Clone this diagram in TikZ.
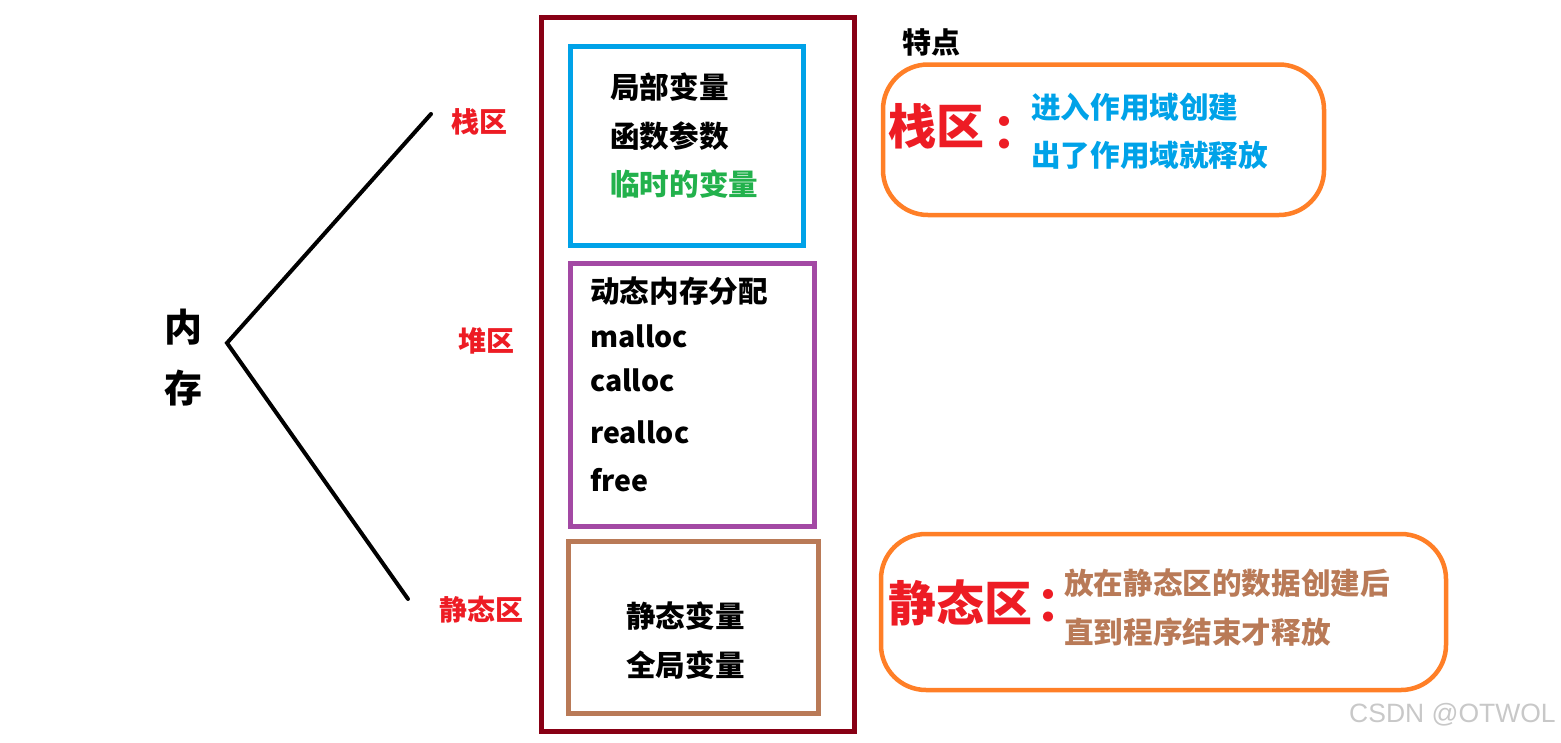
\documentclass[tikz,border=0pt]{standalone}
\usepackage{fontspec}
\newfontfamily\cjk{Noto Sans CJK SC}
\newfontfamily\cjktc{Noto Sans CJK TC}
\newfontfamily\wmfont{Liberation Sans}
\definecolor{framered}{RGB}{136,0,21}
\definecolor{pblue}{RGB}{0,162,232}
\definecolor{ppurple}{RGB}{163,73,164}
\definecolor{pbrown}{RGB}{185,122,87}
\definecolor{porange}{RGB}{255,127,39}
\definecolor{pred}{RGB}{237,28,36}
\definecolor{pgreen}{RGB}{34,177,76}
\definecolor{wmgray}{RGB}{200,200,200}
\tikzset{
  regionbox/.style={draw, line width=5pt, inner sep=0pt, rectangle},
  notebox/.style={draw=porange, line width=4.5pt, rounded corners=45pt, inner sep=0pt, rectangle},
  body/.style={font=\cjk\bfseries\fontsize{29.6}{29.6}\selectfont, inner sep=0pt, anchor=west},
  code/.style={font=\cjk\bfseries\fontsize{28.5}{28.5}\selectfont, inner sep=0pt, anchor=west},
  redlabel/.style={font=\cjk\bfseries\fontsize{28}{28}\selectfont, inner sep=0pt, text=pred},
  biglabel/.style={font=\cjk\bfseries\fontsize{48}{48}\selectfont, inner sep=0pt, anchor=west, text=pred},
  bigcolon/.style={font=\cjktc\bfseries\fontsize{48}{48}\selectfont, inner sep=0pt, text=pred},
  branch/.style={line width=4pt, line cap=round, line join=miter}
}
\begin{document}
\begin{tikzpicture}[x=1pt,y=-1pt]
\useasboundingbox (0,0) rectangle (1561,742);

% left part
\node (mem) [font=\cjk\bfseries\fontsize{38}{61}\selectfont, inner sep=0pt, align=center] at (183,357.5) {内\\存};
\coordinate (v) at (227,343);
\coordinate (e1) at (431,114);
\coordinate (e2) at (408,599);
\draw[branch] (e1) -- (v) -- (e2);

\node (lstack) [redlabel] at (479,122) {栈区};
\node (lheap) [redlabel] at (486,341) {堆区};
\node (lstatic) [redlabel] at (481,610) {静态区};

% memory column
\node (outer) [regionbox, draw=framered, minimum width=313pt, minimum height=714pt] at (698,374.5) {};
\node (stack) [regionbox, draw=pblue, minimum width=233pt, minimum height=199pt] at (687,146) {};
\node (heap) [regionbox, draw=ppurple, minimum width=244pt, minimum height=262.5pt] at (692.5,394.75) {};
\node (static) [regionbox, draw=pbrown, minimum width=250pt, minimum height=172pt] at (693.5,627.5) {};

\node (s1) [body] at (610,87.5) {局部变量};
\node (s2) [body] at (610,136.5) {函数参数};
\node (s3) [body, text=pgreen] at (610,184) {临时的变量};

\node (h1) [body] at (590,291.5) {动态内存分配};
\node (h2) [code] at (590,336) {malloc};
\node (h3) [code] at (590,380) {calloc};
\node (h4) [code] at (590,432) {realloc};
\node (h5) [code] at (590,480) {free};

\node (g1) [body] at (626,616) {静态变量};
\node (g2) [body] at (626,665.5) {全局变量};

% features
\node (feat) [font=\cjk\bfseries\fontsize{29}{29}\selectfont, inner sep=0pt] at (931,42.5) {特点};

\node (n1) [notebox, minimum width=441pt, minimum height=150.5pt] at (1103.5,139.75) {};
\node (n1t) [biglabel] at (888,126.5) {栈区};
\node (n1c) [bigcolon] at (1004,133.5) {：};
\node (n1a) [body, text=pblue] at (1031,107.5) {进入作用域创建};
\node (n1b) [body, text=pblue] at (1031,155.5) {出了作用域就释放};

\node (n2) [notebox, minimum width=565pt, minimum height=156pt] at (1163.5,612) {};
\node (n2t) [biglabel] at (888,603) {静态区};
\node (n2c) [bigcolon] at (1048,606) {：};
\node (n2a) [body, text=pbrown] at (1064,583.5) {放在静态区的数据创建后};
\node (n2b) [body, text=pbrown] at (1064,632) {直到程序结束才释放};

\node (wm) [font=\wmfont\fontsize{26.5}{26.5}\selectfont, text=wmgray, inner sep=0pt, anchor=west] at (1349,715) {CSDN @OTWOL};
\end{tikzpicture}
\end{document}
